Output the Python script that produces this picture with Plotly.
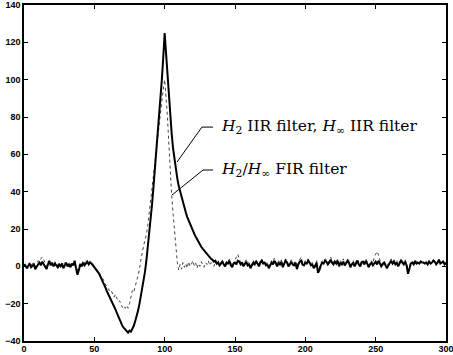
import plotly.graph_objects as go

n_index = list(range(301))

iir_response = [
    1, 0.5, -1, 0, 1.5, -0.5, 0.5, 1, -1.5, 0,
    1, 2, 0.5, 2.5, 1, 0, -1.5, 1, 3, 0.5,
    2, 0, 1.5, 0.5, -0.5, 1, 0, 1.5, -1, 0.5,
    2, 0, 1, -0.5, 1.5, 0.5, 3, -1, -4.5, -2,
    1, 0, 2, 0.5, 1.5, 2.5, 1, 2, 1.5, 0.5,
    0, -1, -2, -3.5, -5, -6.5, -8.5, -10, -11.5, -13.5,
    -15, -16.5, -18, -19.5, -21.5, -23, -25, -27, -29, -30.5,
    -32, -33, -34, -35, -35.5, -34.5, -35, -33.5, -32, -29.5,
    -27, -24, -20.5, -16.5, -12.5, -8, -3, 3, 10, 17,
    25, 33, 42, 51, 60, 69, 79, 89, 100, 112,
    125, 114, 102, 90, 80, 71, 63, 57, 51, 47,
    43, 40, 36.5, 33.5, 31, 29, 26.5, 24.5, 22.5, 20.5,
    19, 17.5, 16, 14.5, 13, 12, 10.5, 9.5, 8.5, 7.5,
    6.5, 5.5, 4.5, 4, 3.5, 2.5, 3, 1.5, 2, 0.5,
    1.5, 2.5, 1, 0, 2, 1.5, 3, 0.5, -0.5, 1.5,
    2, 1, 3, 2.5, 1, 2, 0, 1.5, 2.5, 0.5,
    1, -1, 0.5, 2, 1, 2.5, 1.5, 0, 2, 3,
    1.5, 2, 0.5, 1, -1, 0.5, 2, 1, 3, 1.5,
    0, 2, 1, 2.5, -0.5, 1.5, 3, 2, 0, 1,
    2.5, 1, 0.5, 2, -1.5, 1, 2.5, 3, 1, 0.5,
    2, 1.5, 3, 2, 0.5, 1, -1, 0, 2, -3.5,
    -2, 0.5, 2, 1.5, 3, 2.5, 1, 2, 3.5, 2,
    1, 2.5, 1.5, 3, 0, 2, 1, 2.5, 0.5, 1.5,
    3, 2, -0.5, 1, 2, 0, 1.5, 3, 1, 0,
    2, 2.5, 1, 3, 1.5, -0.5, 1, 2, 0.5, 1.5,
    2.5, 1, 3, 1.5, 0, 1, 2, 0.5, -1, 0.5,
    2, 3, 1.5, 2.5, 1, 2, 0, 1.5, 3, 2,
    1, 2.5, 0.5, -4, -1, 1.5, 2, 1, 2.5, 1.5,
    2, 1.5, 2.5, 2, 2, 1.5, 2, 1, 2.5, 1.5,
    2, 3, 2.5, 1, 2, 3.5, 1.5, 2, 2.5, 1,
    2,
]

fir_response = [
    0, 1.5, 0, -1, 2, 0.5, 1.5, 2, 0, 1,
    3, 2.5, 4, 5, 3.5, 2, 0, 2.5, 1.5, 2,
    0.5, 1, 2.5, 0, 1, 0.5, 1.5, 0, 1, 2,
    0.5, 1, 0, 1.5, 0.5, 2, 1, 0, -2, 0.5,
    2, 1, 3, 1.5, 3.5, 2, 1, 3, 2, 1,
    0.5, -0.5, -1.5, -3, -4, -6, -6.5, -8, -10, -10.5,
    -12, -13.5, -13, -15, -16.5, -15, -17.5, -19, -18.5, -20.5,
    -22, -21, -22.5, -21, -22.5, -20, -17, -13, -14, -11,
    -8, -6, -2, 3, 8, 11, 14, 17, 22, 28,
    34, 41, 48, 55, 62, 69, 76, 83, 89, 95,
    100, 92, 80, 65, 50, 38, 28, 18, 9, 2,
    -2, 1, -1.5, 2, -0.5, 1.5, -1, 2.5, 0, 1,
    3, 0.5, 2, -1, 1.5, 0, 2.5, 1, -0.5, 2,
    1, 3, 0.5, 2, 1, 0, 2.5, 1, 3, 1,
    2, 3.5, 1, 0.5, 2.5, 2, 4, 1.5, 0, 2,
    3.5, 5.5, 6.5, 4, 2, 3, 1, 2.5, 3.5, 1.5,
    2, 0, 1.5, 3, 2, 3.5, 2, 1, 3, 4,
    2.5, 3, 1.5, 2, 0, 1.5, 3, 2, 4.5, 2.5,
    1, 3, 2, 3.5, 0.5, 2.5, 4, 3, 1, 2,
    3.5, 2, 1.5, 3, -0.5, 2, 3.5, 5, 2, 1.5,
    3, 2.5, 4, 3, 1.5, 2, 0, 1, 3, -2,
    -1, 1.5, 3, 2.5, 4, 3.5, 2, 3, 5, 3,
    2, 3.5, 2.5, 4, 1, 3, 2, 4, 1.5, 2.5,
    4, 3, 0.5, 2, 3, 1, 2.5, 4, 2, 1,
    3, 3.5, 2, 4, 2.5, 0.5, 2, 3, 1.5, 5,
    6.5, 8, 6, 3.5, 1, 2, 3, 1.5, 0, 1.5,
    3, 4, 2.5, 3.5, 2, 3, 1, 2.5, 4, 3,
    2, 3.5, 1.5, -2.5, 0, 2.5, 3, 2, 3.5, 2.5,
    2.5, 2, 3, 2.5, 2.5, 2, 2.5, 1.5, 3, 2,
    2.5, 3.5, 3, 1.5, 2.5, 4, 2, 2.5, 3, 1.5,
    2.5,
]

x_ticks = [0, 50, 100, 150, 200, 250, 300]
y_ticks = [-40, -20, 0, 20, 40, 60, 80, 100, 120, 140]

label_iir = "<i>H</i><sub>2</sub> IIR filter, <i>H</i><sub>∞</sub> IIR filter"
label_fir = "<i>H</i><sub>2</sub>/<i>H</i><sub>∞</sub> FIR filter"

fig = go.Figure()
fig.add_trace(go.Scatter(x=n_index, y=fir_response, mode="lines",
                         line=dict(color="#444444", width=1, dash="dot"),
                         showlegend=False, name="H2/Hinf FIR filter"))
fig.add_trace(go.Scatter(x=n_index, y=iir_response, mode="lines",
                         line=dict(color="black", width=2),
                         showlegend=False, name="H2 IIR, Hinf IIR filter"))

# leader lines
for pts in ([(108.8, 55.9), (126.5, 74.6), (134.4, 74.6)],
            [(105.2, 38.2), (127.3, 51.6), (134.4, 51.6)]):
    for (x0, y0), (x1, y1) in zip(pts[:-1], pts[1:]):
        fig.add_shape(type="line", xref="x", yref="y", x0=x0, y0=y0, x1=x1, y1=y1,
                      line=dict(color="black", width=1))

fig.add_annotation(x=138.5, y=74.6, xref="x", yref="y", text=label_iir, showarrow=False,
                   xanchor="left", yanchor="middle",
                   font=dict(family="DejaVu Serif", size=15.5, color="black"))
fig.add_annotation(x=138.5, y=51.6, xref="x", yref="y", text=label_fir, showarrow=False,
                   xanchor="left", yanchor="middle",
                   font=dict(family="DejaVu Serif", size=15.5, color="black"))

axis_common = dict(showline=True, linecolor="black", linewidth=1.5, mirror="ticks",
                   ticks="inside", ticklen=4, tickcolor="black", tickwidth=1,
                   showgrid=False, zeroline=False, ticklabeloverflow="allow",
                   tickfont=dict(family="Liberation Sans", size=9, color="black", weight="bold"))

fig.update_xaxes(range=[0, 300], tickvals=x_ticks, ticklabelstandoff=-2, **axis_common)
fig.update_yaxes(range=[-40, 140], tickvals=y_ticks, **axis_common)

fig.update_layout(width=453, height=355, margin=dict(l=24, r=7, t=5, b=14, autoexpand=False),
                  plot_bgcolor="white", paper_bgcolor="white")

fig.write_html("out.html", config={"displayModeBar": False},
               post_script="document.body.style.margin='0';document.body.style.overflow='hidden';")
